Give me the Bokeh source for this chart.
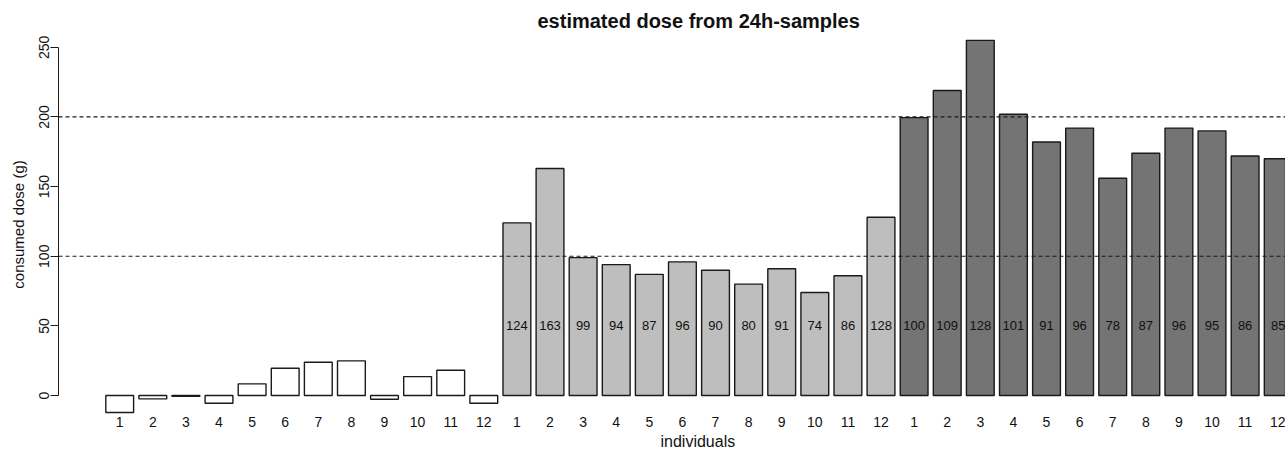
from bokeh.plotting import figure
from bokeh.models import ColumnDataSource, Span, FixedTicker, Title
from bokeh.embed import file_html
from bokeh.resources import INLINE
from bokeh.core.properties import value

# ---- data ----
individuals = [str(i) for i in range(1, 13)]
dose_group_low = [-12.2, -2.4, -0.6, -5.5, 8.4, 19.6, 23.9, 24.9, -2.6, 13.6, 18.2, -5.5]
dose_group_mid = [124, 163, 99, 94, 87, 96, 90, 80, 91, 74, 86, 128]
dose_group_high = [199.5, 219, 255, 202, 182, 192, 156, 174, 192, 190, 172, 170]
pct_group_mid = [124, 163, 99, 94, 87, 96, 90, 80, 91, 74, 86, 128]
pct_group_high = [100, 109, 128, 101, 91, 96, 78, 87, 96, 95, 86, 85]
reference_doses = [100, 200]
y_ticks = [0, 50, 100, 150, 200, 250]

group_fills = ["#ffffff", "#bebebe", "#747474"]
FONT = "Liberation Sans"
INK = "#1a1a1a"

# ---- build table ----
tops = dose_group_low + dose_group_mid + dose_group_high
n = len(tops)
xs = list(range(n))
fills = [group_fills[0]] * 12 + [group_fills[1]] * 12 + [group_fills[2]] * 12
labels = [""] * 12 + [str(v) for v in pct_group_mid] + [str(v) for v in pct_group_high]
src = ColumnDataSource(dict(x=xs, top=tops, fill=fills, label=labels, ly=[50] * n))

p = figure(width=1285, height=452, x_range=(-1.849, 35.22), y_range=(-13.6, 259.2),
           output_backend="svg", toolbar_location=None,
           min_border_left=58, min_border_right=0, min_border_top=34, min_border_bottom=38)
p.background_fill_color = "white"
p.border_fill_color = "white"
p.outline_line_color = None
p.xgrid.visible = False
p.ygrid.visible = False

p.vbar(x="x", top="top", bottom=0, width=0.84, fill_color="fill",
       line_color=INK, line_width=1.4, source=src)

p.text(x="x", y="ly", text="label", text_align="center", text_baseline="middle",
       text_font=value(FONT), text_font_size="13px", text_color="#111111", source=src)

for v in reference_doses:
    p.add_layout(Span(location=v, dimension="width", line_dash="4 3",
                      line_color=INK, line_width=1.2))

# y axis
ya = p.yaxis[0]
ya.ticker = FixedTicker(ticks=y_ticks)
ya.bounds = (0, 250)
ya.major_label_orientation = "vertical"
ya.major_tick_out = 8
ya.major_tick_in = 0
ya.minor_tick_line_color = None
ya.axis_line_color = INK
ya.major_tick_line_color = INK
ya.major_label_text_font = FONT
ya.major_label_text_font_size = "14px"
ya.major_label_text_color = "#111111"
ya.major_label_standoff = 1
ya.axis_label = "consumed dose (g)"
ya.axis_label_text_font = FONT
ya.axis_label_text_font_size = "15px"
ya.axis_label_text_font_style = "normal"
ya.axis_label_text_color = "#111111"
ya.axis_label_standoff = 10

# x axis
xa = p.xaxis[0]
xa.ticker = FixedTicker(ticks=xs)
xa.major_label_overrides = {i: individuals[i % 12] for i in xs}
xa.axis_line_color = None
xa.major_tick_line_color = None
xa.minor_tick_line_color = None
xa.major_tick_out = 0
xa.major_tick_in = 0
xa.major_label_standoff = 2
xa.major_label_text_font = FONT
xa.major_label_text_font_size = "14px"
xa.major_label_text_color = "#111111"

# title
p.title.text = "estimated dose from 24h-samples"
p.title.align = "left"
p.title.offset = 479
p.title.text_font = FONT
p.title.text_font_size = "20px"
p.title.text_font_style = "bold"
p.title.text_color = "#111111"
p.title.standoff = 6

p.add_layout(Title(text="individuals", align="left", offset=602, text_font=FONT,
                   text_font_size="16px", text_font_style="normal",
                   text_color="#111111", standoff=3), "below")

open("out.html", "w").write(file_html(p, INLINE))
